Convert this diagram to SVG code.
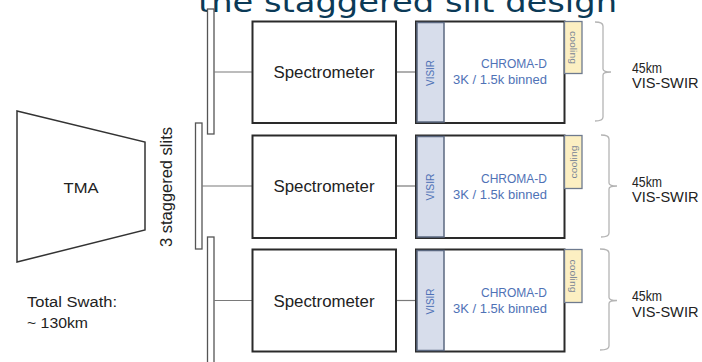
<svg xmlns="http://www.w3.org/2000/svg" width="702" height="362" viewBox="0 0 702 362">
  <style>
    .title { font-family: "DejaVu Sans", Verdana, sans-serif; font-size: 28px; fill: #0b3a57; }
    .lbl { font-family: "Liberation Sans", Arial, sans-serif; fill: #222; }
    .box { fill: #fff; stroke: #2a2a2a; stroke-width: 2; }
    .strip { fill: #d7ddeb; stroke: #5b6880; stroke-width: 1.5; }
    .cool { fill: #fcefc2; stroke: #6e7a8e; stroke-width: 1.3; }
    .slit { fill: #fff; stroke: #555; stroke-width: 1.3; }
    .conn { stroke: #7a7a7a; stroke-width: 1.2; fill: none; }
    .brace { stroke: #b4b4b4; stroke-width: 1.3; fill: none; }
    .blue { font-family: "Liberation Sans", Arial, sans-serif; fill: #4f72b6; }
    .coolt { font-family: "Liberation Sans", Arial, sans-serif; font-size: 9px; fill: #7a8596; }
  </style>

  <text class="title" x="198" y="12" textLength="419" lengthAdjust="spacingAndGlyphs">the staggered slit design</text>

  <!-- telescope -->
  <g id="tma">
    <polygon points="17,111 145,142 145,230 17,262" fill="#fff" stroke="#333" stroke-width="1.5"/>
    <text class="lbl" x="81" y="193" font-size="15.5" text-anchor="middle" textLength="35" lengthAdjust="spacingAndGlyphs">TMA</text>
  </g>

  <g id="swath">
    <text class="lbl" x="27" y="307" font-size="15.5" textLength="90" lengthAdjust="spacingAndGlyphs">Total Swath:</text>
    <text class="lbl" x="27" y="328" font-size="15.5" textLength="61" lengthAdjust="spacingAndGlyphs">~ 130km</text>
  </g>

  <g id="slits">
    <rect class="slit" x="207.5" y="9" width="6.5" height="125"/>
    <rect class="slit" x="195.5" y="123" width="6.5" height="126"/>
    <rect class="slit" x="207.5" y="237" width="6.5" height="130"/>
    <text class="lbl" font-size="16" text-anchor="middle" transform="translate(171.5,187) rotate(-90)" textLength="120" lengthAdjust="spacingAndGlyphs">3 staggered slits</text>
  </g>

  <!-- connectors -->
  <g id="connectors">
    <line class="conn" x1="214" y1="72" x2="252" y2="72"/>
    <line class="conn" x1="396" y1="72" x2="416" y2="72"/>
    <line class="conn" x1="202" y1="186" x2="252" y2="186"/>
    <line class="conn" x1="396" y1="186" x2="416" y2="186"/>
    <line class="conn" x1="214" y1="300.5" x2="252" y2="300.5"/>
    <line class="conn" x1="396" y1="300.5" x2="416" y2="300.5"/>
  </g>

  <!-- row 1 -->
  <g id="spectrometer-1">
    <rect class="box" x="252.5" y="21.5" width="143.5" height="101.5"/>
    <text class="lbl" x="324" y="78" font-size="16" text-anchor="middle" textLength="101" lengthAdjust="spacingAndGlyphs">Spectrometer</text>
  </g>
  <g id="detector-1">
    <rect class="box" x="416" y="21.5" width="148.5" height="101.5"/>
    <rect class="strip" x="417" y="22.5" width="27" height="99.5"/>
    <rect class="cool" x="564.5" y="21.5" width="17.5" height="52"/>
    <text class="blue" font-size="11" text-anchor="middle" transform="translate(434,73) rotate(-90)" textLength="26" lengthAdjust="spacingAndGlyphs">VISIR</text>
    <text class="coolt" text-anchor="middle" transform="translate(570,47.5) rotate(90)" textLength="33" lengthAdjust="spacingAndGlyphs">cooling</text>
    <text class="blue" x="547" y="68" font-size="12.5" text-anchor="end" textLength="66" lengthAdjust="spacingAndGlyphs">CHROMA-D</text>
    <text class="blue" x="547" y="84" font-size="12.5" text-anchor="end" textLength="94" lengthAdjust="spacingAndGlyphs">3K / 1.5k binned</text>
  </g>
  <g id="swath-1">
    <path class="brace" d="M595,22 Q603,22 603,26 L603,69 Q603,72 611,72 Q603,72 603,75 L603,117 Q603,121 595,121"/>
    <text class="lbl" x="632" y="72.5" font-size="15" textLength="30" lengthAdjust="spacingAndGlyphs">45km</text>
    <text class="lbl" x="632" y="88" font-size="15" textLength="66.5" lengthAdjust="spacingAndGlyphs">VIS-SWIR</text>
  </g>

  <!-- row 2 -->
  <g id="spectrometer-2">
    <rect class="box" x="252.5" y="135.5" width="143.5" height="102.5"/>
    <text class="lbl" x="324" y="192" font-size="16" text-anchor="middle" textLength="101" lengthAdjust="spacingAndGlyphs">Spectrometer</text>
  </g>
  <g id="detector-2">
    <rect class="box" x="416" y="135.5" width="148.5" height="102.5"/>
    <rect class="strip" x="417" y="136.5" width="27" height="100.5"/>
    <rect class="cool" x="564.5" y="135.5" width="17.5" height="53"/>
    <text class="blue" font-size="11" text-anchor="middle" transform="translate(434,187) rotate(-90)" textLength="27" lengthAdjust="spacingAndGlyphs">VISIR</text>
    <text class="coolt" text-anchor="middle" transform="translate(576.5,162) rotate(-90)" textLength="33" lengthAdjust="spacingAndGlyphs">cooling</text>
    <text class="blue" x="547" y="183" font-size="12.5" text-anchor="end" textLength="66" lengthAdjust="spacingAndGlyphs">CHROMA-D</text>
    <text class="blue" x="547" y="199" font-size="12.5" text-anchor="end" textLength="94" lengthAdjust="spacingAndGlyphs">3K / 1.5k binned</text>
  </g>
  <g id="swath-2">
    <path class="brace" d="M601,135 Q609,135 609,139 L609,183 Q609,186 617,186 Q609,186 609,189 L609,233 Q609,237 601,237"/>
    <text class="lbl" x="632" y="186.5" font-size="15" textLength="30" lengthAdjust="spacingAndGlyphs">45km</text>
    <text class="lbl" x="632" y="202" font-size="15" textLength="66.5" lengthAdjust="spacingAndGlyphs">VIS-SWIR</text>
  </g>

  <!-- row 3 -->
  <g id="spectrometer-3">
    <rect class="box" x="252.5" y="249.5" width="143.5" height="102"/>
    <text class="lbl" x="324" y="306.5" font-size="16" text-anchor="middle" textLength="101" lengthAdjust="spacingAndGlyphs">Spectrometer</text>
  </g>
  <g id="detector-3">
    <rect class="box" x="416" y="249.5" width="148.5" height="102"/>
    <rect class="strip" x="417" y="250.5" width="27" height="100"/>
    <rect class="cool" x="564.5" y="249.5" width="17.5" height="53"/>
    <text class="blue" font-size="11" text-anchor="middle" transform="translate(434,301.5) rotate(-90)" textLength="26" lengthAdjust="spacingAndGlyphs">VISIR</text>
    <text class="coolt" text-anchor="middle" transform="translate(570,276) rotate(90)" textLength="33" lengthAdjust="spacingAndGlyphs">cooling</text>
    <text class="blue" x="547" y="297" font-size="12.5" text-anchor="end" textLength="66" lengthAdjust="spacingAndGlyphs">CHROMA-D</text>
    <text class="blue" x="547" y="313" font-size="12.5" text-anchor="end" textLength="94" lengthAdjust="spacingAndGlyphs">3K / 1.5k binned</text>
  </g>
  <g id="swath-3">
    <path class="brace" d="M600,249 Q609,249 609,253 L609,297.5 Q609,300.5 617,300.5 Q609,300.5 609,303.5 L609,346 Q609,350 600,350"/>
    <text class="lbl" x="632" y="301" font-size="15" textLength="30" lengthAdjust="spacingAndGlyphs">45km</text>
    <text class="lbl" x="632" y="316.5" font-size="15" textLength="66.5" lengthAdjust="spacingAndGlyphs">VIS-SWIR</text>
  </g>
</svg>
